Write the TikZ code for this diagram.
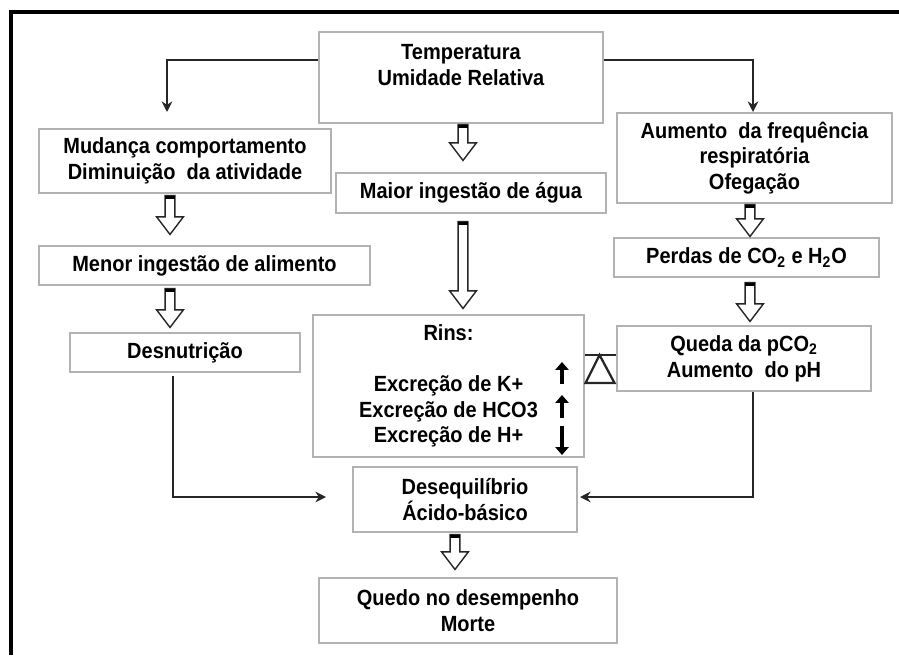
\documentclass[tikz,border=0pt]{standalone}
\usepackage{fontspec}
\setmainfont{Liberation Sans}[FakeStretch=0.91]
\usetikzlibrary{arrows.meta,calc}

% hollow block arrow, x taken from the first point
\newcommand{\hollowarrow}[2]{%
  \draw[hollow] let \p1=#1, \p2=#2 in
    (\x1-2.8pt,\y1) -- (\x1-2.8pt,\y2+10pt) -- (\x1-7.6pt,\y2+10pt) -- (\x1,\y2)
    -- (\x1+7.6pt,\y2+10pt) -- (\x1+2.8pt,\y2+10pt) -- (\x1+2.8pt,\y1) -- cycle;
  \fill let \p1=#1 in (\x1-2.8pt,\y1) rectangle (\x1+2.8pt,\y1-2.2pt);}

\begin{document}
\begin{tikzpicture}[>={Stealth[length=6pt,width=6pt]},
	box/.style={draw=black!30, line width=0.6pt, fill=white, align=center, inner sep=0pt,
		font=\fontsize{12.5}{14.6}\selectfont\bfseries},
	flow/.style={->, line width=1.4pt, black!85},
	hollow/.style={draw=black!85, line width=0.8pt, fill=white},
	updown/.style={line width=2.8pt, -{Triangle[length=4.5pt,width=7.5pt]}},
	balance/.style={line width=1.3pt, black!85}]
		\useasboundingbox (0,0) rectangle (17.98,-13.1);
		% frame
		\draw[line width=2.2pt] (0.22,-13.1) -- (0.22,-0.24) -- (17.98,-0.24);
		
		% Nodes
		\node[box, minimum width=5.68cm, minimum height=1.82cm] (temp) at (9.22,-1.55) {Temperatura\\Umidade Relativa\\\mbox{}};
		\node[box, minimum width=5.84cm, minimum height=1.28cm] (mud) at (3.70,-3.22) {Mudança comportamento\\Diminuição\ \ da atividade};
		\node[box, minimum width=5.40cm, minimum height=0.80cm] (maior) at (9.42,-3.86) {Maior ingestão de água};
		\node[box, minimum width=5.50cm, minimum height=1.80cm] (aum) at (15.09,-3.16) {Aumento\ \ da frequência\\respiratória\\Ofegação};
		\node[box, minimum width=6.62cm, minimum height=0.78cm] (menor) at (4.09,-5.31) {Menor ingestão de alimento};
		\node[box, minimum width=5.30cm, minimum height=0.78cm] (perdas) at (14.93,-5.15) {Perdas de CO\textsubscript{2} e H\textsubscript{2}O};
		\node[box, minimum width=4.60cm, minimum height=0.78cm] (desn) at (3.70,-7.05) {Desnutrição};
		\node[box, minimum width=5.42cm, minimum height=2.84cm] (rins) at (8.97,-7.72) {Rins:\\\mbox{}\\Excreção de K+\\Excreção de HCO3\\Excreção de H+};
		\node[box, minimum width=5.08cm, minimum height=1.30cm] (queda) at (14.88,-7.17) {Queda da pCO\textsubscript{2}\\Aumento\ \ do pH};
		\node[box, minimum width=4.48cm, minimum height=1.30cm] (deseq) at (9.30,-9.99) {Desequilíbrio\\Ácido-básico};
		\node[box, minimum width=5.96cm, minimum height=1.30cm] (quedo) at (9.36,-12.21) {Quedo no desempenho\\Morte};
		
		\coordinate (c1) at (3.34,-2.24);
		\coordinate (c2) at (15.06,-2.24);
		\coordinate (c3) at (6.52,-9.94);
		\coordinate (c4) at (11.60,-9.94);
		
		% Edges
		\draw[flow] ([yshift=0.35cm]temp.west) -| (c1);
		\draw[flow] ([yshift=0.35cm]temp.east) -| (c2);
		\draw[flow] ([xshift=-0.24cm,yshift=-0.06cm]desn.south) |- (c3);
		\draw[flow] ([xshift=0.18cm]queda.south) |- (c4);
		
		\hollowarrow{([xshift=-0.30cm,yshift=-0.04cm]mud.south)}{([yshift=0.22cm]menor.north)}
		\hollowarrow{([xshift=-0.69cm,yshift=-0.06cm]menor.south)}{([yshift=0.10cm]desn.north)}
		\hollowarrow{([xshift=0.04cm,yshift=-0.02cm]temp.south)}{([yshift=0.24cm]maior.north)}
		\hollowarrow{([xshift=-0.16cm,yshift=-0.16cm]maior.south)}{([yshift=0.12cm]rins.north)}
		\hollowarrow{([xshift=-0.09cm,yshift=-0.02cm]aum.south)}{([yshift=0.02cm]perdas.north)}
		\hollowarrow{([xshift=0.07cm,yshift=-0.10cm]perdas.south)}{([yshift=0.08cm]queda.north)}
		\hollowarrow{([xshift=-0.20cm,yshift=-0.04cm]deseq.south)}{([yshift=0.16cm]quedo.north)}
		
		% up and down marks in the kidney box
		\draw[updown] ([shift={(2.27,0.04)}]rins.center) -- ([shift={(2.27,0.48)}]rins.center);
		\draw[updown] ([shift={(2.27,-0.64)}]rins.center) -- ([shift={(2.27,-0.18)}]rins.center);
		\draw[updown] ([shift={(2.27,-0.80)}]rins.center) -- ([shift={(2.27,-1.38)}]rins.center);
		
		% balance between kidney and pCO2
		\coordinate (bal) at ([yshift=0.62cm]rins.east);
		\draw[balance] (bal) -- (bal -| queda.west);
		\draw[balance] ([xshift=0.30cm]bal) -- ++(-0.28,-0.56) -- ++(0.58,0) -- cycle;
		
	\end{tikzpicture}
\end{document}
